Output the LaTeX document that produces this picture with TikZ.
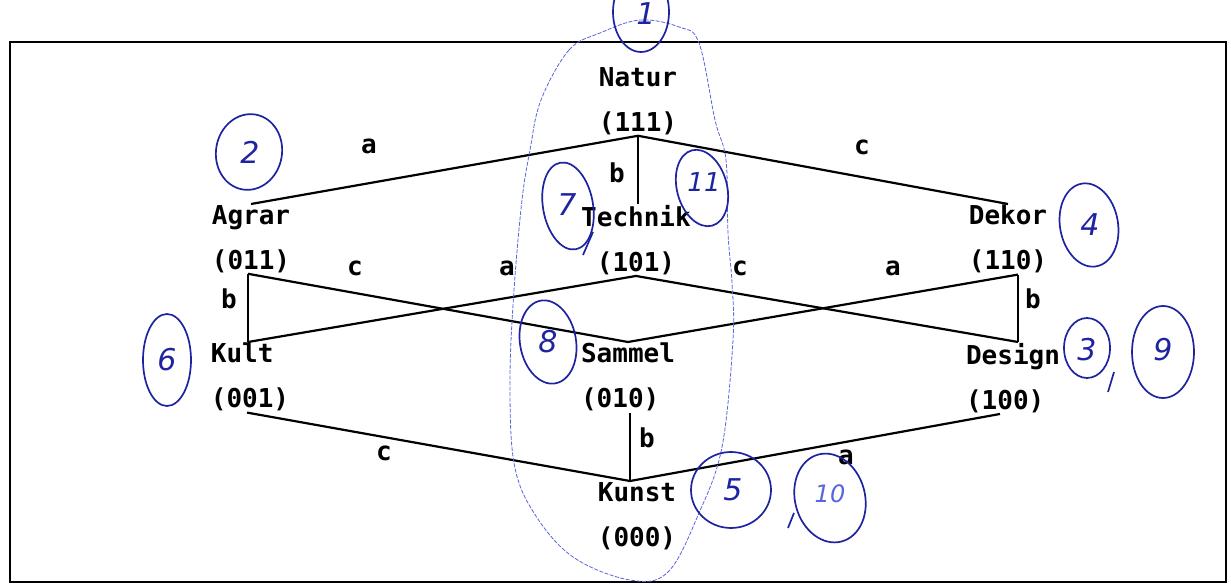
\documentclass[tikz,border=0pt]{standalone}
\usepackage{fontspec}
\newfontfamily\tw{DejaVu Sans Mono}
\newfontfamily\hand{DejaVu Sans}
\definecolor{pen}{RGB}{30,35,160}
\definecolor{penlight}{RGB}{90,100,220}
\begin{document}
\begin{tikzpicture}[x=1pt,y=-1pt,
  vtx/.style={inner sep=1pt, font=\tw\bfseries\fontsize{26}{45}\selectfont, align=left, anchor=north},
  lbl/.style={inner sep=0pt, font=\tw\bfseries\fontsize{26}{30}\selectfont},
  edge/.style={line width=2.2pt, black},
  ring/.style={draw=pen, line width=1.7pt},
  num/.style={text=pen, font=\hand\itshape\fontsize{30}{30}\selectfont, inner sep=0pt}]
\useasboundingbox (0,0) rectangle (1231,585);
\draw[line width=2.6pt] (10,42) rectangle (1226,582);

% vertices
\node[vtx] (natur)   at (638,66)  {Natur\\(111)};
\node[vtx] (agrar)   at (251,204) {Agrar\\(011)};
\node[vtx, align=center] (technik) at (636,204) {Technik\\(101)};
\node[vtx] (dekor)   at (1008,204) {Dekor\\(110)};
\node[vtx] (kult)    at (250,342) {Kult\\(001)};
\node[vtx] (sammel)  at (628,342) {Sammel\\(010)};
\node[vtx] (design)  at (1013,342) {Design\\(100)};
\node[vtx] (kunst)   at (637,481) {Kunst\\(000)};
\coordinate (kunsttop) at ([xshift=2pt]sammel.south |- kunst.north);

% connectors
\draw[edge] (natur.south) -- (agrar.north);
\draw[edge] (natur.south) -- (natur.south |- technik.north);
\draw[edge] (natur.south) -- (dekor.north);
\draw[edge] ([xshift=-3pt]agrar.south) -- ([xshift=-3pt]agrar.south |- kult.north);
\draw[edge] ([xshift=-3pt]agrar.south) -- (sammel.north);
\draw[edge] (technik.south) -- ([xshift=-3pt]agrar.south |- kult.north);
\draw[edge] (technik.south) -- ([xshift=5pt]design.north);
\draw[edge] ([xshift=10pt]dekor.south) -- (sammel.north);
\draw[edge] ([xshift=10pt]dekor.south) -- ([xshift=5pt]design.north);
\draw[edge] ([xshift=-3pt]kult.south) -- (kunsttop);
\draw[edge] ([xshift=2pt]sammel.south) -- (kunsttop);
\draw[edge] ([xshift=-13pt]design.south) -- (kunsttop);

% edge labels
\node[lbl] (la1) at (369,146) {a};
\node[lbl] (lc1) at (862,147) {c};
\node[lbl] (lb1) at (617,173) {b};
\node[lbl] (lc2) at (355,268) {c};
\node[lbl] (la2) at (507,268) {a};
\node[lbl] (lc3) at (740,268) {c};
\node[lbl] (la3) at (893,268) {a};
\node[lbl] (lb2) at (229,299) {b};
\node[lbl] (lb3) at (1033,299) {b};
\node[lbl] (lc4) at (384,453) {c};
\node[lbl] (lb4) at (647,438) {b};
\node[lbl] (la4) at (846,457) {a};

% handwritten loop
\draw[penlight, line width=0.8pt, dash pattern=on 4pt off 1.5pt]
  plot[smooth cycle, tension=0.6] coordinates {(600,33) (569,50) (541,100) (530,150) (522,200) (514,290) (510,380) (514,463) (534,513) (573,557) (630,580) (668,572) (699,513) (722,447) (733,340) (732,283) (728,233) (726,160) (715,120) (699,43) (679,27) (640,20)};

% handwritten circled numbers
\draw[ring] (641,12) ellipse [x radius=28, y radius=40];
\node[num] (n1) at (646,14) {1};
\draw[ring, rotate around={-10:(249,152)}] (249,152) ellipse [x radius=33, y radius=38];
\node[num] (n2) at (250,152) {2};
\draw[ring, rotate around={10:(568,206)}] (568,206) ellipse [x radius=25, y radius=44];
\node[num] (n7) at (567,205) {7};
\draw[pen, line width=1.7pt] (593,232) -- (583,255);
\draw[ring, rotate around={15:(702,188)}] (702,188) ellipse [x radius=25, y radius=39];
\node[num, font=\hand\itshape\fontsize{26}{26}\selectfont] (n11) at (704,182) {11};
\draw[ring, rotate around={10:(1089,225)}] (1089,225) ellipse [x radius=29, y radius=42];
\node[num] (n4) at (1090,225) {4};
\draw[ring] (167,360) ellipse [x radius=24, y radius=46];
\node[num] (n6) at (167,360) {6};
\draw[ring, rotate around={10:(548,342)}] (548,342) ellipse [x radius=28, y radius=42];
\node[num] (n8) at (548,342) {8};
\draw[ring] (1087,348) ellipse [x radius=23, y radius=30];
\node[num] (n3) at (1087,350) {3};
\draw[pen, line width=1.7pt] (1114,372) -- (1108,392);
\draw[ring] (1163,352) ellipse [x radius=31, y radius=46];
\node[num] (n9) at (1163,350) {9};
\draw[ring] (731,490) ellipse [x radius=40, y radius=38];
\node[num] (n5) at (733,490) {5};
\draw[ring, rotate around={15:(830,498)}] (830,498) ellipse [x radius=35, y radius=45];
\node[num, text=penlight, font=\hand\itshape\fontsize{24}{24}\selectfont] (n10) at (830,494) {10};
\draw[pen, line width=1.7pt] (794,513) -- (788,528);
\end{tikzpicture}
\end{document}
